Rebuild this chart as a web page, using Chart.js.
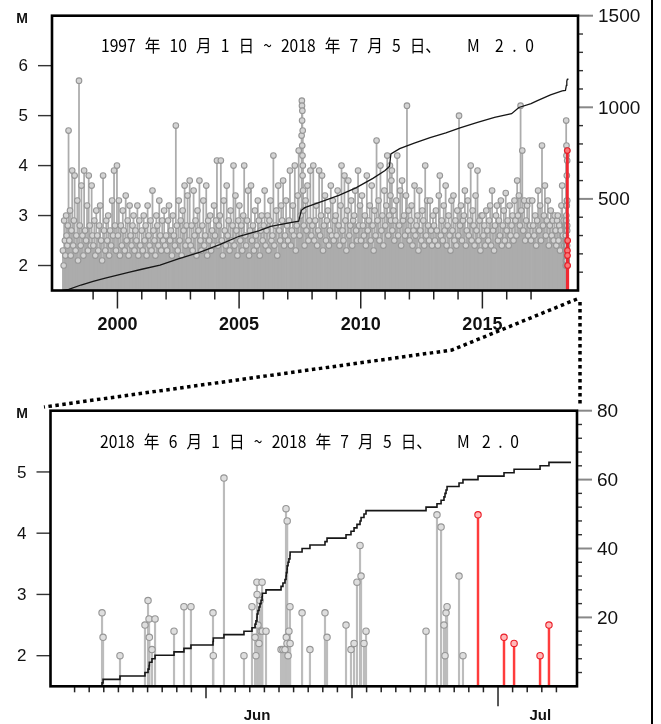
<!DOCTYPE html>
<html lang="ja">
<head>
<meta charset="UTF-8">
<title>地震活動経過図</title>
<script src="https://cdn.jsdelivr.net/npm/chart.js"></script>
<style>
  body { margin: 0; background: #fff; overflow: hidden; }
  #wrap { position: relative; width: 661px; height: 724px; }
  canvas { position: absolute; left: 0; top: 0; }
</style>
</head>
<body>
<div id="wrap">
  <canvas id="longChart" width="661" height="724"></canvas>
  <canvas id="juneChart" width="661" height="724"></canvas>
</div>
<script>
// ---- データ ----
const mBase = 1.5;   // 縦軸(M)の下端。棒はここから立てる

// 上段: 1997/10/1〜2018/5/31 の地震 [年, M]
const longEvents = [
  [1997.76,2.3],[1997.79,2.0],[1997.81,2.9],[1997.84,2.5],[1997.86,2.2],[1997.89,3.0],[1997.91,2.6],[1997.94,2.4],[1997.96,2.8],[1997.99,4.7],
  [1998.02,2.5],[1998.05,3.1],[1998.08,2.2],[1998.11,2.7],[1998.14,3.9],[1998.18,2.4],[1998.21,2.9],[1998.24,3.8],[1998.28,2.3],[1998.31,2.6],[1998.35,3.3],[1998.38,2.1],[1998.42,5.7],[1998.45,2.8],[1998.49,2.4],[1998.52,3.6],[1998.56,2.6],[1998.6,2.2],[1998.63,3.9],[1998.67,2.7],[1998.71,2.5],[1998.75,3.2],[1998.79,2.3],[1998.82,3.8],[1998.86,2.8],[1998.9,2.4],[1998.94,3.6],[1998.97,2.6],
  [1999.01,2.4],[1999.05,2.9],[1999.09,2.2],[1999.13,3.1],[1999.17,2.6],[1999.21,2.3],[1999.25,2.8],[1999.29,3.2],[1999.33,2.5],[1999.37,2.1],[1999.41,3.8],[1999.45,2.7],[1999.5,2.3],[1999.54,2.9],[1999.58,2.5],[1999.62,3.0],[1999.66,2.2],[1999.7,2.7],[1999.74,2.4],[1999.78,3.3],[1999.82,2.6],[1999.86,3.9],[1999.9,2.8],[1999.94,2.3],[1999.98,4.0],
  [2000.02,2.6],[2000.06,3.3],[2000.1,2.2],[2000.14,2.8],[2000.18,2.4],[2000.22,3.1],[2000.26,2.7],[2000.3,2.3],[2000.34,3.4],[2000.38,2.5],[2000.42,2.9],[2000.46,2.2],[2000.5,3.2],[2000.54,2.6],[2000.58,2.4],[2000.62,2.8],[2000.66,3.0],[2000.7,2.3],[2000.74,2.7],[2000.78,2.5],[2000.82,3.2],[2000.86,2.2],[2000.9,2.9],[2000.94,2.4],
  [2001.0,2.7],[2001.04,2.3],[2001.08,3.0],[2001.12,2.5],[2001.16,2.8],[2001.2,2.2],[2001.24,3.2],[2001.28,2.6],[2001.32,2.4],[2001.36,2.9],[2001.4,2.3],[2001.44,3.5],[2001.48,2.7],[2001.52,2.5],[2001.56,2.2],[2001.6,3.0],[2001.64,2.8],[2001.68,2.4],[2001.72,3.3],[2001.76,2.6],[2001.8,2.3],[2001.84,2.9],[2001.88,2.5],[2001.92,3.1],[2001.96,2.4],
  [2002.0,2.6],[2002.04,2.3],[2002.08,2.9],[2002.12,3.2],[2002.16,2.5],[2002.2,2.7],[2002.24,2.2],[2002.28,3.0],[2002.32,2.6],[2002.36,2.4],[2002.4,4.8],[2002.44,2.8],[2002.48,2.3],[2002.52,3.3],[2002.56,2.5],[2002.6,2.9],[2002.64,2.2],[2002.68,3.1],[2002.72,2.7],[2002.76,3.6],[2002.8,2.4],[2002.84,2.8],[2002.88,3.4],[2002.92,2.5],[2002.97,3.7],
  [2003.01,2.4],[2003.05,2.8],[2003.09,2.3],[2003.13,3.5],[2003.17,2.6],[2003.21,2.9],[2003.25,2.2],[2003.29,3.1],[2003.33,2.7],[2003.37,3.7],[2003.41,2.5],[2003.45,2.3],[2003.49,2.8],[2003.53,3.3],[2003.57,2.4],[2003.61,2.6],[2003.65,3.6],[2003.69,2.2],[2003.73,2.9],[2003.77,2.5],[2003.81,3.0],[2003.85,2.3],[2003.89,2.7],[2003.93,2.4],[2003.97,3.2],
  [2004.01,2.6],[2004.05,2.9],[2004.09,4.1],[2004.13,2.4],[2004.17,2.8],[2004.21,3.0],[2004.25,4.1],[2004.29,2.5],[2004.33,2.2],[2004.37,3.3],[2004.41,2.7],[2004.45,2.4],[2004.49,3.6],[2004.53,2.6],[2004.57,2.9],[2004.61,2.3],[2004.65,3.1],[2004.69,2.5],[2004.73,2.8],[2004.77,4.0],[2004.81,2.4],[2004.85,3.4],[2004.89,2.7],[2004.93,2.2],[2004.97,2.9],
  [2005.01,3.2],[2005.05,2.5],[2005.09,2.8],[2005.13,2.3],[2005.17,3.0],[2005.21,4.0],[2005.25,2.6],[2005.29,2.4],[2005.33,2.9],[2005.37,3.5],[2005.41,2.2],[2005.45,2.7],[2005.49,3.6],[2005.53,2.5],[2005.57,2.8],[2005.61,2.3],[2005.65,3.1],[2005.69,2.6],[2005.73,2.4],[2005.77,3.3],[2005.81,2.9],[2005.85,2.2],[2005.89,2.7],[2005.93,3.0],[2005.97,2.5],
  [2006.01,2.8],[2006.05,3.5],[2006.09,2.4],[2006.13,2.7],[2006.17,3.0],[2006.21,2.3],[2006.25,2.9],[2006.29,3.3],[2006.33,2.5],[2006.37,2.6],[2006.41,4.2],[2006.45,2.4],[2006.49,2.8],[2006.53,3.1],[2006.57,2.2],[2006.61,3.6],[2006.65,2.7],[2006.69,2.5],[2006.73,3.2],[2006.77,2.9],[2006.81,3.7],[2006.85,2.4],[2006.89,2.6],[2006.93,3.3],[2006.97,2.8],
  [2007.01,2.5],[2007.05,2.9],[2007.09,3.9],[2007.13,2.4],[2007.17,2.7],[2007.21,3.2],[2007.25,2.6],[2007.29,4.0],[2007.33,2.3],[2007.37,2.8],[2007.41,3.4],[2007.45,4.3],[2007.49,2.6],[2007.53,3.0],[2007.57,4.6],[2007.58,5.3],[2007.585,5.2],[2007.59,4.9],[2007.595,4.4],[2007.6,5.1],[2007.605,4.2],[2007.61,3.8],[2007.615,4.7],[2007.62,4.0],[2007.63,3.5],[2007.64,3.1],[2007.66,2.8],[2007.69,2.4],[2007.73,3.3],[2007.77,2.7],[2007.81,3.6],[2007.85,2.5],[2007.89,2.9],[2007.93,3.9],[2007.97,2.6],
  [2008.01,2.8],[2008.05,4.0],[2008.09,2.5],[2008.13,2.9],[2008.17,3.2],[2008.21,2.4],[2008.25,2.7],[2008.29,3.9],[2008.33,2.6],[2008.37,3.0],[2008.41,3.8],[2008.45,2.3],[2008.49,2.8],[2008.53,3.4],[2008.57,2.5],[2008.61,2.9],[2008.65,3.1],[2008.69,2.4],[2008.73,2.7],[2008.77,3.6],[2008.81,2.6],[2008.85,3.3],[2008.89,2.5],[2008.93,2.9],[2008.97,3.0],
  [2009.01,2.6],[2009.05,3.5],[2009.09,2.8],[2009.13,2.4],[2009.17,3.2],[2009.21,4.0],[2009.25,2.7],[2009.29,2.5],[2009.33,3.8],[2009.37,2.9],[2009.41,2.3],[2009.45,3.1],[2009.49,3.7],[2009.53,2.6],[2009.57,2.8],[2009.61,3.3],[2009.65,2.4],[2009.69,2.9],[2009.73,3.0],[2009.77,3.5],[2009.81,2.7],[2009.85,2.5],[2009.89,3.9],[2009.93,2.8],[2009.97,3.2],
  [2010.01,2.5],[2010.05,3.4],[2010.09,2.8],[2010.13,2.6],[2010.17,3.0],[2010.21,2.4],[2010.25,3.8],[2010.29,2.7],[2010.33,2.9],[2010.37,3.2],[2010.41,2.5],[2010.45,3.6],[2010.49,2.8],[2010.53,2.3],[2010.57,3.1],[2010.61,2.6],[2010.65,4.5],[2010.69,2.9],[2010.73,3.3],[2010.77,2.5],[2010.81,4.0],[2010.85,2.7],[2010.89,3.0],[2010.93,2.4],[2010.97,3.5],
  [2011.01,2.8],[2011.05,3.2],[2011.09,4.2],[2011.13,2.6],[2011.17,3.0],[2011.2,4.0],[2011.22,3.4],[2011.24,2.9],[2011.26,3.7],[2011.28,3.9],[2011.3,2.7],[2011.34,3.1],[2011.38,2.5],[2011.42,2.9],[2011.46,3.3],[2011.5,4.2],[2011.54,2.6],[2011.58,2.8],[2011.62,3.5],[2011.66,2.4],[2011.7,3.7],[2011.74,2.9],[2011.78,3.0],[2011.82,2.6],[2011.86,3.4],[2011.9,5.2],[2011.94,2.7],[2011.97,3.1],
  [2012.01,2.5],[2012.05,2.9],[2012.09,3.2],[2012.13,2.4],[2012.17,2.7],[2012.21,3.6],[2012.25,2.6],[2012.29,2.8],[2012.33,3.0],[2012.37,2.3],[2012.41,3.5],[2012.45,2.7],[2012.49,2.5],[2012.53,3.1],[2012.57,2.9],[2012.61,2.4],[2012.65,4.0],[2012.69,2.6],[2012.73,3.3],[2012.77,2.8],[2012.81,2.5],[2012.85,3.3],[2012.89,2.7],[2012.93,2.4],[2012.97,3.0],
  [2013.01,2.8],[2013.05,2.5],[2013.09,3.1],[2013.13,2.7],[2013.17,2.4],[2013.21,3.4],[2013.25,3.8],[2013.29,2.6],[2013.33,2.9],[2013.37,2.5],[2013.41,3.2],[2013.45,2.7],[2013.49,3.6],[2013.53,2.4],[2013.57,2.8],[2013.61,3.0],[2013.65,2.6],[2013.69,2.3],[2013.73,3.3],[2013.77,2.7],[2013.81,3.4],[2013.85,2.5],[2013.89,2.9],[2013.93,2.4],[2013.97,3.1],
  [2014.01,2.6],[2014.04,5.0],[2014.08,2.8],[2014.12,3.2],[2014.16,2.5],[2014.2,2.9],[2014.24,3.0],[2014.28,3.5],[2014.32,2.4],[2014.36,2.7],[2014.4,3.3],[2014.44,2.6],[2014.48,2.9],[2014.52,4.0],[2014.56,2.5],[2014.6,3.1],[2014.64,2.8],[2014.68,2.4],[2014.72,3.4],[2014.76,2.7],[2014.8,3.9],[2014.84,2.5],[2014.88,2.9],[2014.92,2.3],[2014.96,3.0],
  [2015.0,3.0],[2015.04,2.6],[2015.08,2.8],[2015.12,2.4],[2015.16,3.1],[2015.2,2.7],[2015.24,2.5],[2015.28,2.9],[2015.32,3.2],[2015.36,2.4],[2015.4,3.5],[2015.44,2.7],[2015.48,2.3],[2015.52,2.8],[2015.56,3.0],[2015.6,3.2],[2015.64,2.5],[2015.68,2.9],[2015.72,2.6],[2015.76,3.3],[2015.8,2.4],[2015.84,2.8],[2015.88,3.1],[2015.92,2.5],[2015.96,3.45],
  [2016.0,2.7],[2016.04,2.9],[2016.08,2.4],[2016.12,3.2],[2016.16,2.6],[2016.2,2.8],[2016.24,3.0],[2016.28,2.5],[2016.32,3.3],[2016.36,2.9],[2016.4,2.6],[2016.43,3.7],[2016.46,3.0],[2016.5,3.4],[2016.54,2.8],[2016.57,5.2],[2016.6,3.1],[2016.64,4.3],[2016.68,2.7],[2016.72,3.3],[2016.76,2.5],[2016.8,2.9],[2016.84,3.2],[2016.88,2.6],[2016.92,3.3],[2016.96,2.8],
  [2017.0,2.5],[2017.05,3.3],[2017.09,2.8],[2017.13,2.6],[2017.17,3.0],[2017.21,2.4],[2017.25,2.9],[2017.29,3.5],[2017.33,2.7],[2017.37,3.2],[2017.41,2.5],[2017.45,4.4],[2017.49,2.8],[2017.53,3.0],[2017.57,3.6],[2017.61,2.6],[2017.65,2.9],[2017.69,3.3],[2017.73,2.4],[2017.77,2.8],[2017.81,3.1],[2017.85,2.6],[2017.89,2.9],[2017.93,2.5],[2017.97,3.0],
  [2018.01,2.7],[2018.04,2.4],[2018.07,2.9],[2018.1,3.0],[2018.13,2.5],[2018.16,2.8],[2018.19,2.3],[2018.22,2.7],[2018.25,3.2],[2018.28,3.6],[2018.31,2.6],[2018.34,2.9],[2018.37,2.4],[2018.4,2.8]
];

// 上段の積算回数 [年, 回数]（右軸）
const longCount = [
  [1997.75,0],[1998.0,6],[1998.5,30],[1999.0,50],[1999.5,68],[2000.0,84],[2000.5,100],[2001.0,116],
  [2001.75,139],[2002.5,172],[2003.4,209],[2004.2,250],[2005.0,296],[2005.8,325],[2006.3,350],
  [2007.0,368],[2007.45,378],[2007.56,438],[2007.7,452],[2008.5,490],[2009.1,519],[2009.8,560],
  [2010.5,612],[2011.0,655],[2011.18,677],[2011.24,745],[2011.6,774],[2012.2,805],[2012.85,834],
  [2013.5,860],[2014.08,888],[2014.8,918],[2015.5,945],[2016.2,965],[2016.5,999],[2017.0,1020],
  [2017.24,1035],[2017.8,1068],[2018.28,1090],[2018.414,1092],[2018.452,1120],[2018.47,1143],
  [2018.49,1152],[2018.51,1157]
];

// 下段: 2018/6/1 0時からの経過日数と M
const juneDays = [
  2.88, 2.95, 4.11, 5.82, 6.03, 6.10, 6.12, 6.30, 6.51, 7.81,
  8.49, 8.97, 10.48, 10.50, 11.23, 12.60, 13.15, 13.36, 13.42, 13.49,
  13.50, 13.56, 13.63, 13.70, 13.77, 13.84, 13.86, 14.11, 15.14, 15.27,
  15.41, 15.48, 15.50, 15.55, 15.56, 15.62, 15.68, 15.75, 15.76, 16.58,
  17.12, 18.15, 18.29, 19.59, 19.93, 20.14, 20.34, 20.55, 20.62, 20.82,
  20.96, 25.07, 25.82, 26.10, 26.30, 26.37, 26.44, 26.51, 27.33, 27.60,
  28.63, 30.41, 31.10, 32.88, 33.49
];
const juneMags = [
  2.7, 2.3, 2.0, 2.5, 2.9, 2.6, 2.3, 2.1, 2.6, 2.4,
  2.8, 2.8, 2.7, 2.0, 4.9, 2.0, 2.8, 2.3, 2.0, 3.2,
  3.0, 2.5, 2.2, 2.9, 2.4, 3.2, 2.4, 2.4, 2.1, 2.1,
  2.1, 4.4, 2.3, 2.2, 4.2, 2.0, 2.4, 2.8, 2.2, 2.7,
  2.1, 2.7, 2.3, 2.5, 2.1, 2.2, 3.2, 3.8, 3.3, 2.2,
  2.4, 2.4, 4.3, 4.1, 2.5, 2.0, 2.7, 2.8, 3.3, 2.0,
  4.3, 2.3, 2.2, 2.0, 2.5
];
const redFromDay = 28.5;          // これ以降の地震を赤で表示
const juneEndDay = 35;            // 7/5 24時
const june1Year = 2018 + 151 / 365;

// 目盛り
const longMTicks = [2, 3, 4, 5, 6];
const longCountLabels = [500, 1000, 1500];
const yearLabels = [2000, 2005, 2010, 2015];
const juneMTicks = [2, 3, 4, 5];
const juneCountLabels = [20, 40, 60, 80];
const juneMidTicks = [10, 20];
const juneLongTicks = [30];
const monthNames = ['Jun', 'Jul'];
const monthAt = [13.5, 32.9];

// タイトル（期間、M、下限値）
const titleLong = ['1997 年 10 月 1 日 ~ 2018 年 7 月 5 日、', 'M', '2.0'];
const titleJune = ['2018 年 6 月 1 日 ~ 2018 年 7 月 5 日、', 'M', '2.0'];

// ---- 系列の組み立て ----
const juneEvents = juneDays.map((d, i) => ({ d: d, m: juneMags[i] }));
const toYear = d => june1Year + d / 365;

const longGray = longEvents.map(e => ({ x: e[0], m: e[1] }))
  .concat(juneEvents.filter(e => e.d < redFromDay).map(e => ({ x: toYear(e.d), m: e.m })));
const longRed = juneEvents.filter(e => e.d >= redFromDay).map(e => ({ x: toYear(e.d), m: e.m }));
const juneGray = juneEvents.filter(e => e.d < redFromDay).map(e => ({ x: e.d, m: e.m }));
const juneRed = juneEvents.filter(e => e.d >= redFromDay).map(e => ({ x: e.d, m: e.m }));

// 積算回数（下段はイベントから数える）
const juneCount = [{ x: 0, y: 0 }]
  .concat(juneDays.map((d, i) => ({ x: d, y: i + 1 })))
  .concat([{ x: juneEndDay, y: juneDays.length }]);

const stems = (list, color, w) => ({
  type: 'bar', data: list.map(e => ({ x: e.x, y: [mBase, e.m] })),
  backgroundColor: color, barThickness: w, grouped: false, yAxisID: 'y'
});
const heads = (list, border, fill, r) => ({
  type: 'scatter', data: list.map(e => ({ x: e.x, y: e.m })),
  pointRadius: r, pointBorderWidth: 1.1, borderColor: border, backgroundColor: fill, yAxisID: 'y'
});

// 横に少し詰めた字で、x0〜x1 に収まるよう語間を調整して書く
function fitText(ctx, text, x0, x1, y) {
  const sx = 0.92;
  ctx.save();
  ctx.translate(x0, y);
  ctx.scale(sx, 1);
  ctx.letterSpacing = '0px';
  ctx.wordSpacing = '0px';
  const w = ctx.measureText(text).width;
  const spaces = text.split(' ').length - 1;
  const extra = (x1 - x0) / sx - w;
  if (spaces > 0) ctx.wordSpacing = (extra / spaces) + 'px';
  else if (text.length > 1) ctx.letterSpacing = (extra / (text.length - 1)) + 'px';
  ctx.textAlign = 'left';
  ctx.fillText(text, 0, 0);
  ctx.restore();
}

// 軸・枠・タイトルを描くプラグイン
function makeDecor(spec) {
  return {
    id: 'decor',
    afterDraw(chart) {
      const ctx = chart.ctx, a = chart.chartArea;
      const sx = chart.scales.x, sy = chart.scales.y, sc = chart.scales.y2;
      const seg = (x1, y1, x2, y2, w, c) => {
        ctx.beginPath(); ctx.lineWidth = w; ctx.strokeStyle = c;
        ctx.moveTo(x1, y1); ctx.lineTo(x2, y2); ctx.stroke();
      };
      ctx.save();
      ctx.fillStyle = '#111';

      // 左軸 M
      ctx.font = '17px "Liberation Sans", Arial, sans-serif';
      ctx.textAlign = 'right'; ctx.textBaseline = 'middle';
      spec.mTicks.forEach(v => {
        const py = sy.getPixelForValue(v);
        seg(a.left - 14, py, a.left, py, 1.4, '#333');
        ctx.fillText(String(v), a.left - 24, py + 1);
      });
      ctx.font = 'bold 14px "Liberation Sans", Arial, sans-serif';
      ctx.textAlign = 'center';
      ctx.fillText('M', 22, a.top + 3);

      // 右軸 積算回数
      sc.ticks.forEach(t => {
        if (t.value <= 0 || !Number.isInteger(t.value)) return;
        const py = sc.getPixelForValue(t.value);
        if (spec.countLabels.includes(t.value)) seg(a.right, py, a.right + 15, py, 2, '#888');
        else seg(a.right, py, a.right + 5, py, 1.4, '#333');
      });
      ctx.font = '19px "Liberation Sans", Arial, sans-serif';
      ctx.textAlign = 'left';
      spec.countLabels.forEach(v => ctx.fillText(String(v), a.right + 20, sc.getPixelForValue(v) + 1));

      // 時間軸
      sx.ticks.forEach(t => {
        if (!Number.isInteger(t.value)) return;
        let len = spec.minorLen;
        if (spec.midTicks.includes(t.value)) len = spec.midLen;
        if (spec.longTicks.includes(t.value)) len = spec.longLen;
        const px = sx.getPixelForValue(t.value);
        seg(px, a.bottom, px, a.bottom + len, 1.5, '#222');
      });
      ctx.font = spec.xFont;
      ctx.textAlign = 'center';
      spec.xLabels.forEach((lab, i) => ctx.fillText(lab, sx.getPixelForValue(spec.xLabelAt[i]), spec.xLabelY));

      // 枠
      ctx.lineWidth = 2.6; ctx.strokeStyle = '#000';
      ctx.strokeRect(a.left, a.top, a.right - a.left, a.bottom - a.top);

      // タイトル
      ctx.fillStyle = '#000';
      ctx.font = '17px "Noto Sans CJK JP", sans-serif';
      spec.title.forEach((part, i) => fitText(ctx, part, spec.titleAt[i][0], spec.titleAt[i][1], spec.titleY));

      if (spec.overlay) {
        // 拡大範囲を示す点線と右端の罫線
        ctx.setLineDash([3.5, 3.5]);
        ctx.lineWidth = 3.5; ctx.strokeStyle = '#000';
        ctx.beginPath(); ctx.moveTo(577, 299); ctx.lineTo(452, 350); ctx.lineTo(44, 407); ctx.stroke();
        ctx.beginPath(); ctx.moveTo(580, 302); ctx.lineTo(580, 407); ctx.stroke();
        ctx.setLineDash([]);
        seg(652, 0, 652, 724, 2, '#000');
      }
      ctx.restore();
    }
  };
}

function makeChart(id, cfg) {
  return new Chart(document.getElementById(id), {
    type: 'scatter',
    data: { datasets: cfg.datasets },
    options: {
      responsive: false, animation: false, devicePixelRatio: 1, events: [],
      layout: { padding: cfg.padding },
      plugins: { legend: { display: false }, tooltip: { enabled: false } },
      scales: {
        x: { type: 'linear', display: false, offset: false, min: cfg.xMin, max: cfg.xMax,
             ticks: { display: false, stepSize: 1 } },
        y: { type: 'linear', display: false, min: mBase, max: cfg.mMax, ticks: { display: false } },
        y2: { type: 'linear', display: false, min: 0, max: cfg.countMax, position: 'right',
              ticks: { display: false, stepSize: cfg.countStep } }
      }
    },
    plugins: [makeDecor(cfg.decor)]
  });
}

// 上段
makeChart('longChart', {
  padding: { left: 52, right: 83, top: 15.7, bottom: 433.5 },
  xMin: 1997.31, xMax: 2018.93, mMax: 7, countMax: 1500, countStep: 100,
  datasets: [
    { type: 'line', data: longCount.map(p => ({ x: p[0], y: p[1] })), yAxisID: 'y2',
      borderColor: '#161616', borderWidth: 1.3, pointRadius: 0, tension: 0, order: 0 },
    Object.assign(heads(longRed, 'rgb(230,30,40)', 'rgb(250,120,120)', 2.8), { order: 1 }),
    Object.assign(stems(longRed, 'rgb(240,40,50)', 2.2), { order: 2 }),
    Object.assign(heads(longGray, 'rgb(150,150,150)', 'rgb(212,212,212)', 2.8), { order: 3 }),
    Object.assign(stems(longGray, 'rgb(172,172,172)', 1.1), { order: 4 })
  ],
  decor: {
    mTicks: longMTicks, countLabels: longCountLabels,
    minorLen: 9, midLen: 18, longLen: 18, midTicks: yearLabels, longTicks: [],
    xLabels: yearLabels.map(String), xLabelAt: yearLabels, xLabelY: 325,
    xFont: 'bold 18px "Liberation Sans", Arial, sans-serif',
    title: titleLong, titleAt: [[101, 441], [467, 479], [495, 534]], titleY: 46, overlay: false
  }
});

// 下段
makeChart('juneChart', {
  padding: { left: 50.5, right: 84, top: 410.7, bottom: 37.7 },
  xMin: -0.65, xMax: 35.41, mMax: 6, countMax: 80, countStep: 4,
  datasets: [
    { type: 'line', data: juneCount, yAxisID: 'y2', stepped: true,
      borderColor: '#161616', borderWidth: 1.6, pointRadius: 0, order: 0 },
    Object.assign(heads(juneRed, 'rgb(235,30,40)', 'rgb(255,185,185)', 3.2), { order: 1 }),
    Object.assign(stems(juneRed, 'rgb(255,60,60)', 1.8), { order: 2 }),
    Object.assign(heads(juneGray, 'rgb(150,150,150)', 'rgb(222,222,222)', 3.2), { order: 3 }),
    Object.assign(stems(juneGray, 'rgb(188,188,188)', 1.5), { order: 4 })
  ],
  decor: {
    mTicks: juneMTicks, countLabels: juneCountLabels,
    minorLen: 6, midLen: 12, longLen: 20, midTicks: juneMidTicks, longTicks: juneLongTicks,
    xLabels: monthNames, xLabelAt: monthAt, xLabelY: 716,
    xFont: 'bold 15px "Liberation Sans", Arial, sans-serif',
    title: titleJune, titleAt: [[100, 432], [457, 469], [482, 519]], titleY: 442, overlay: true
  }
});
</script>
</body>
</html>
